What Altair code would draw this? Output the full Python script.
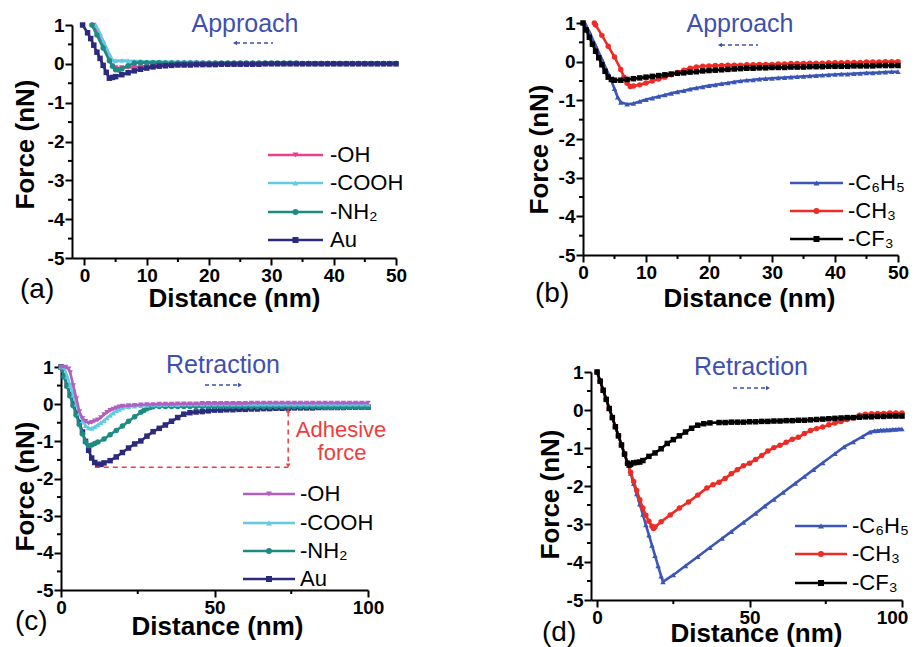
import altair as alt
import pandas as pd

FONT = "Liberation Sans"
W, H = 901, 639

# ---------------- data ----------------
# (a) approach: -OH, -COOH, -NH2, Au
a_oh_x = [1.5, 2, 3, 4, 4.5, 5, 6, 7, 8, 9, 10, 11, 12, 13, 14] + list(range(15, 51))
a_oh_y = [1.0, 0.85, 0.5, 0.1, -0.05, -0.1, -0.1, -0.09, -0.08, -0.07, -0.06, -0.05, -0.04, -0.03, -0.02,
          -0.02, -0.02, -0.01, -0.01, -0.01, -0.01, 0.0, 0.0, 0.0, 0.0,
          0.0, 0.0, 0.0, 0.0, 0.0, 0.0, 0.0, 0.0, 0.0, 0.0,
          0.0, 0.0, 0.0, 0.0, 0.0, 0.0, 0.0, 0.0, 0.0, 0.0,
          0.0, 0.0, 0.0, 0.0, 0.0, 0.0]
a_cooh_x = [1.8, 2.5, 3, 3.5, 4, 4.5, 5, 6, 7, 8, 9, 10, 11, 12, 13, 14] + list(range(15, 51))
a_cooh_y = [1.0, 0.78, 0.6, 0.42, 0.25, 0.1, 0.08, 0.09, 0.08, 0.07, 0.07, 0.06, 0.06, 0.06, 0.05, 0.05,
            0.05, 0.05, 0.05, 0.05, 0.04, 0.04, 0.04, 0.04, 0.04, 0.04,
            0.04, 0.03, 0.03, 0.03, 0.03, 0.03, 0.03, 0.03, 0.03, 0.03,
            0.03, 0.03, 0.03, 0.03, 0.03, 0.03, 0.03, 0.03, 0.03, 0.03,
            0.03, 0.03, 0.03, 0.03, 0.03, 0.03]
a_nh2_x = [1.2, 2, 3, 4, 4.5, 5, 5.5, 6, 7, 8, 9, 10, 11, 12, 13, 14] + list(range(15, 51))
a_nh2_y = [1.0, 0.74, 0.41, 0.08, -0.06, -0.15, -0.16, -0.13, -0.05, 0.02, 0.03, 0.03, 0.03, 0.03, 0.02, 0.02,
           0.02, 0.02, 0.02, 0.02, 0.02, 0.02, 0.02, 0.02, 0.02, 0.02,
           0.02, 0.02, 0.02, 0.02, 0.02, 0.02, 0.02, 0.02, 0.02, 0.02,
           0.01, 0.01, 0.01, 0.01, 0.01, 0.01, 0.01, 0.01, 0.01, 0.01,
           0.01, 0.01, 0.01, 0.01, 0.01, 0.01]
a_au_x = [-0.3, 0.5, 1, 1.5, 2, 2.5, 3, 3.5, 4, 4.5, 5, 6, 7, 8, 9, 10, 11, 12, 13, 14] + list(range(15, 51))
a_au_y = [1.0, 0.8, 0.65, 0.48, 0.3, 0.14, -0.04, -0.22, -0.37, -0.35, -0.33, -0.28, -0.23, -0.18, -0.14,
          -0.11, -0.08, -0.06, -0.05, -0.04,
          -0.03, -0.03, -0.03, -0.02, -0.02, -0.02, -0.02, -0.01, -0.01, -0.01,
          -0.01, -0.01, -0.01, -0.01, 0.0, 0.0, 0.0, 0.0, 0.0, 0.0,
          0.0, 0.0, 0.0, 0.0, 0.0, 0.0, 0.0, 0.0, 0.0, 0.0,
          0.0, 0.0, 0.0, 0.0, 0.0, 0.0]

# (b) approach: -C6H5, -CH3, -CF3
b_c6h5_x = [0.3, 1, 2, 3, 4, 5, 5.5, 6, 7] + list(range(8, 51))
b_c6h5_y = [1.0, 0.78, 0.42, 0.06, -0.3, -0.7, -0.92, -1.05, -1.1,
            -1.08, -1.03, -0.98, -0.94, -0.9, -0.86, -0.82, -0.78, -0.75, -0.71,
            -0.68, -0.65, -0.62, -0.6, -0.57, -0.55, -0.52, -0.5, -0.48, -0.47,
            -0.45, -0.44, -0.43, -0.42, -0.41, -0.4, -0.39, -0.38, -0.37, -0.36,
            -0.35, -0.34, -0.33, -0.32, -0.32, -0.31, -0.3, -0.29, -0.29, -0.28,
            -0.27, -0.26, -0.26]
b_ch3_x = [1.8, 2, 3, 4, 5, 6, 6.5, 7, 7.5, 8] + list(range(9, 51))
b_ch3_y = [1.0, 0.95, 0.68, 0.4, 0.12, -0.2, -0.4, -0.56, -0.64, -0.63,
           -0.6, -0.55, -0.5, -0.45, -0.4, -0.34, -0.28, -0.22, -0.17, -0.14,
           -0.12, -0.11, -0.1, -0.1, -0.09, -0.09, -0.09, -0.08, -0.08, -0.07,
           -0.07, -0.07, -0.06, -0.06, -0.05, -0.05, -0.05, -0.04, -0.04, -0.04,
           -0.03, -0.03, -0.03, -0.02, -0.02, -0.02, -0.01, -0.01, -0.01, 0.0,
           0.0, 0.0]
b_cf3_x = [0, 0.5, 1, 1.5, 2, 2.5, 3, 3.5, 4, 4.5, 5, 6, 7] + list(range(8, 51))
b_cf3_y = [1.0, 0.82, 0.63, 0.45, 0.27, 0.1, -0.08, -0.25, -0.4, -0.46, -0.48, -0.48, -0.46,
           -0.44, -0.42, -0.4, -0.38, -0.36, -0.34, -0.32, -0.3, -0.29, -0.27,
           -0.26, -0.24, -0.23, -0.22, -0.21, -0.2, -0.19, -0.18, -0.17, -0.17,
           -0.16, -0.16, -0.15, -0.15, -0.15, -0.14, -0.14, -0.14, -0.13, -0.13,
           -0.13, -0.12, -0.12, -0.12, -0.12, -0.11, -0.11, -0.11, -0.11, -0.1,
           -0.1, -0.1, -0.1]

# (c) retraction: -OH, -COOH, -NH2, Au
c_oh_x = [0, 1.5, 2.5, 3, 4, 5, 6, 7, 8, 9, 10, 11, 12, 13, 14, 15, 16, 17, 18, 19, 20] + list(range(22, 101, 2))
c_oh_y = [1.0, 1.0, 0.95, 0.85, 0.5, 0.15, -0.2, -0.38, -0.46, -0.51, -0.49, -0.45, -0.42, -0.36, -0.28,
          -0.22, -0.17, -0.13, -0.1, -0.07, -0.05,
          -0.04, -0.03, -0.02, -0.01, -0.01, 0.0, 0.0, 0.0, 0.01, 0.01,
          0.01, 0.01, 0.02, 0.02, 0.02, 0.02, 0.02, 0.02, 0.02, 0.02,
          0.03, 0.03, 0.03, 0.03, 0.03, 0.03, 0.03, 0.03, 0.03, 0.03,
          0.03, 0.03, 0.03, 0.03, 0.03, 0.03, 0.03, 0.03, 0.03, 0.03]
c_cooh_x = list(range(0, 21)) + list(range(22, 101, 2))
c_cooh_y = [1.0, 1.0, 0.75, 0.5, 0.24, 0.0, -0.24, -0.45, -0.58, -0.64, -0.65, -0.61, -0.56, -0.5, -0.44,
            -0.37, -0.3, -0.24, -0.18, -0.14, -0.1,
            -0.07, -0.05, -0.04, -0.03, -0.02, -0.02, -0.01, -0.01, -0.01, 0.0,
            0.0, 0.0, 0.0, 0.0, 0.0, 0.0, 0.0, 0.0, 0.0, 0.0,
            0.0, 0.0, 0.0, 0.0, 0.0, 0.0, 0.0, 0.0, 0.0, 0.0,
            0.0, 0.0, 0.0, 0.0, 0.0, 0.0, 0.0, 0.0, 0.0, 0.0]
c_nh2_x = list(range(0, 13)) + [14, 16, 18, 20, 22, 24, 26, 27, 28, 29, 30] + list(range(32, 101, 2))
c_nh2_y = [1.0, 0.74, 0.48, 0.22, -0.04, -0.3, -0.55, -0.8, -1.02, -1.12, -1.1, -1.06, -1.02,
           -0.94, -0.82, -0.71, -0.59, -0.46, -0.34, -0.22, -0.17, -0.12, -0.09, -0.07,
           -0.06, -0.06, -0.06, -0.06, -0.06, -0.06, -0.06, -0.06, -0.06, -0.06,
           -0.06, -0.06, -0.06, -0.06, -0.06, -0.07, -0.07, -0.07, -0.07, -0.07,
           -0.07, -0.07, -0.07, -0.07, -0.07, -0.07, -0.07, -0.08, -0.08, -0.08,
           -0.08, -0.08, -0.08, -0.08, -0.08]
c_au_x = list(range(0, 15)) + list(range(16, 51, 2)) + list(range(52, 101, 2))
c_au_y = [1.0, 0.75, 0.5, 0.25, 0.0, -0.25, -0.5, -0.75, -1.0, -1.24, -1.45, -1.57, -1.62, -1.62, -1.58,
          -1.52, -1.42, -1.3, -1.18, -1.07, -0.99, -0.86, -0.74, -0.65, -0.56, -0.46, -0.36, -0.27,
          -0.23, -0.21, -0.2, -0.18, -0.16,
          -0.16, -0.15, -0.15, -0.14, -0.14, -0.13, -0.13, -0.12, -0.12, -0.11,
          -0.11, -0.11, -0.1, -0.1, -0.1, -0.1, -0.09, -0.09, -0.09, -0.09,
          -0.09, -0.08, -0.08, -0.08, -0.08]

# (d) retraction: -C6H5, -CH3, -CF3
d_c6h5_x = list(range(0, 22)) + [21.6, 25, 29, 33, 37, 41, 44, 48, 52, 55, 58, 61, 65, 68, 71, 74, 78, 81,
                                 84, 87, 89.5] + list(range(91, 101))
d_c6h5_y = [1.0, 0.76, 0.52, 0.28, 0.04, -0.2, -0.44, -0.68, -0.92, -1.16, -1.4,
            -1.67, -1.94, -2.21, -2.48, -2.75, -3.02, -3.29, -3.56, -3.83, -4.1, -4.37,
            -4.52, -4.34, -4.1, -3.86, -3.62, -3.38, -3.2, -2.96, -2.72, -2.53, -2.35, -2.17, -1.93,
            -1.75, -1.57, -1.39, -1.15, -0.97, -0.84, -0.7, -0.58,
            -0.55, -0.54, -0.53, -0.53, -0.52, -0.52, -0.51, -0.51, -0.5, -0.5]
d_ch3_x = list(range(0, 11)) + [11, 12, 13, 14, 15, 16, 17, 18, 18.5, 19, 21, 24, 27, 30, 33, 36] + \
    list(range(38, 101, 2))
d_ch3_y = [1.0, 0.76, 0.52, 0.28, 0.04, -0.2, -0.44, -0.68, -0.92, -1.16, -1.4,
           -1.64, -1.88, -2.12, -2.36, -2.58, -2.77, -2.93, -3.06, -3.12, -3.08, -2.94, -2.76, -2.58,
           -2.42, -2.24, -2.05,
           -1.97, -1.9, -1.8, -1.68, -1.57, -1.47, -1.4, -1.3, -1.2, -1.08,
           -0.99, -0.93, -0.85, -0.77, -0.72, -0.62, -0.54, -0.49, -0.45, -0.39,
           -0.34, -0.3, -0.25, -0.21, -0.14, -0.11, -0.1, -0.09, -0.09, -0.08,
           -0.08, -0.08]
d_cf3_x = list(range(0, 11)) + [10.5, 11, 12, 13, 14, 15, 17, 19, 21, 23, 25, 27, 29, 31, 33, 35, 37] + \
    list(range(40, 101, 2))
d_cf3_y = [1.0, 0.76, 0.52, 0.28, 0.04, -0.2, -0.44, -0.68, -0.92, -1.16, -1.4,
           -1.45, -1.43, -1.39, -1.38, -1.37, -1.33, -1.22, -1.13, -1.02, -0.88, -0.78, -0.68, -0.58,
           -0.48, -0.4, -0.36, -0.34,
           -0.33, -0.33, -0.32, -0.32, -0.32, -0.31, -0.31, -0.3, -0.3, -0.29,
           -0.29, -0.28, -0.28, -0.27, -0.27, -0.26, -0.25, -0.24, -0.23, -0.22,
           -0.21, -0.2, -0.2, -0.19, -0.18, -0.18, -0.17, -0.17, -0.16, -0.16,
           -0.16]

y_major = [-5, -4, -3, -2, -1, 0, 1]
y_minor = [-4.5, -3.5, -2.5, -1.5, -0.5, 0.5]

# ---------------- styling ----------------
PINK, CYAN, TEAL, NAVY, PURPLE = "#ec3f8c", "#62cbe0", "#1f8a83", "#2c2a7e", "#b25fc2"
BLUE, RED, BLACK = "#3b56b6", "#ee2b25", "#000000"
NOTE = "#3e4fb2"
ADH = "#f03c3c"

SERIES = {
    "a": [("-OH", a_oh_x, a_oh_y, PINK, "triangle-down"),
          ("-COOH", a_cooh_x, a_cooh_y, CYAN, "triangle-up"),
          ("-NH\u2082", a_nh2_x, a_nh2_y, TEAL, "circle"),
          ("Au", a_au_x, a_au_y, NAVY, "square")],
    "b": [("-C\u2086H\u2085", b_c6h5_x, b_c6h5_y, BLUE, "triangle-up"),
          ("-CH\u2083", b_ch3_x, b_ch3_y, RED, "circle"),
          ("-CF\u2083", b_cf3_x, b_cf3_y, BLACK, "square")],
    "c": [("-OH", c_oh_x, c_oh_y, PURPLE, "triangle-down"),
          ("-COOH", c_cooh_x, c_cooh_y, CYAN, "triangle-up"),
          ("-NH\u2082", c_nh2_x, c_nh2_y, TEAL, "circle"),
          ("Au", c_au_x, c_au_y, NAVY, "square")],
    "d": [("-C\u2086H\u2085", d_c6h5_x, d_c6h5_y, BLUE, "triangle-up"),
          ("-CH\u2083", d_ch3_x, d_ch3_y, RED, "circle"),
          ("-CF\u2083", d_cf3_x, d_cf3_y, BLACK, "square")],
}
# drawing order (last on top)
DRAW_ORDER = {"a": [0, 1, 2, 3], "b": [0, 1, 2], "c": [3, 2, 1, 0], "d": [0, 1, 2]}

PANEL = {
    "a": dict(xdom=[-2, 50], xr=[64, 388], yr=[250, 17], xt=[0, 10, 20, 30, 40, 50], xm=[5, 15, 25, 35, 45],
              xtitle=(226, 40.5), ytitle=(-47, 136), lastshift=0,
              leg=(260, 315, 322, [147, 175, 204, 232]), tag=("(a)", 12, 289.5),
              note=("Approach", 237, 24), arrow=(225, 265, 35, "left")),
    "b": dict(xdom=[0, 50], xr=[575, 890], yr=[247, 15], xt=[0, 10, 20, 30, 40, 50], xm=[5, 15, 25, 35, 45],
              xtitle=(741, 43.5), ytitle=(-44, 141), lastshift=0,
              leg=(782, 835, 840, [175, 203, 231]), tag=("(b)", 527, 293.5),
              note=("Approach", 732, 24), arrow=(710, 750, 37, "left")),
    "c": dict(xdom=[0, 100], xr=[53, 360], yr=[582, 359], xt=[0, 50, 100], xm=[25, 75],
              xtitle=(209, 36), ytitle=(-36, 478), lastshift=0,
              leg=(235, 287, 292, [486, 515, 543, 571]), tag=("(c)", 7, 622),
              note=("Retraction", 215, 365), arrow=(197, 234, 377, "right")),
    "d": dict(xdom=[-2, 100], xr=[583, 894], yr=[592, 364], xt=[0, 50, 100], xm=[25, 75],
              xtitle=(748, 33), ytitle=(-41, 486), lastshift=-10,
              leg=(787, 839, 844, [518, 546, 575]), tag=("(d)", 534, 633),
              note=("Retraction", 743, 367), arrow=(725, 762, 380, "right")),
}

AXIS_STYLE = dict(grid=False, domainColor="black", domainWidth=2, tickColor="black", tickWidth=2,
                  tickSize=7, labelFont=FONT, labelFontSize=19, labelFontWeight="bold", labelColor="black",
                  labelPadding=1, labelFlush=False, labelOverlap=False, labelExpr="'' + datum.value",
                  titleFont=FONT, titleFontSize=26, titleFontWeight="bold", titleColor="black",
                  titleBaseline="middle", titleAlign="center")

ONE = pd.DataFrame({"k": [0]})


def txt(text, x, y, size, color="black", align="left", baseline="middle", weight="normal"):
    return alt.Chart(ONE).mark_text(text=text, font=FONT, fontSize=size, color=color, align=align,
                                    baseline=baseline, fontWeight=weight).encode(
        x=alt.value(x), y=alt.value(y))


def panel(key):
    p = PANEL[key]
    xb, yb = p["xr"][0], p["yr"][0]
    xsc = alt.Scale(domain=p["xdom"], range=p["xr"], nice=False, zero=False)
    ysc = alt.Scale(domain=[-5, 1], range=p["yr"], nice=False, zero=False)
    xextra = {}
    if p["lastshift"]:
        # keep the last tick label inside the page edge
        xextra["labelOffset"] = {"condition": {"test": "datum.value === %d" % p["xt"][-1],
                                               "value": p["lastshift"]}, "value": 0}
    xa = alt.Axis(orient="bottom", offset=yb - H, values=p["xt"], title="Distance (nm)",
                  titleX=p["xtitle"][0], titleY=p["xtitle"][1], **AXIS_STYLE, **xextra)
    ya = alt.Axis(orient="left", offset=-xb, values=y_major, title="Force (nN)", titleAngle=270,
                  titleX=p["ytitle"][0], titleY=p["ytitle"][1], **AXIS_STYLE)

    def X(f):
        return alt.X(f, scale=xsc, axis=xa)

    def Y(f):
        return alt.Y(f, scale=ysc, axis=ya)

    def XD(v):
        return alt.XDatum(v, scale=xsc, axis=xa)

    def YD(v):
        return alt.YDatum(v, scale=ysc, axis=ya)

    layers = []
    # minor ticks
    layers.append(alt.Chart(pd.DataFrame({"v": p["xm"]})).mark_rule(color="black", strokeWidth=2).encode(
        x=X("v:Q"), y=alt.value(yb), y2=alt.value(yb + 4)))
    layers.append(alt.Chart(pd.DataFrame({"v": y_minor})).mark_rule(color="black", strokeWidth=2).encode(
        y=Y("v:Q"), x=alt.value(xb - 4), x2=alt.value(xb)))
    for idx in DRAW_ORDER[key]:
        name, xs, ys, col, shp = SERIES[key][idx]
        assert len(xs) == len(ys), (key, name, len(xs), len(ys))
        df = pd.DataFrame({"x": xs, "y": ys})
        layers.append(alt.Chart(df).mark_line(color=col, strokeWidth=2.6).encode(x=X("x:Q"), y=Y("y:Q")))
        layers.append(alt.Chart(df).mark_point(shape=shp, filled=True, color=col, size=30, opacity=1)
                      .encode(x=X("x:Q"), y=Y("y:Q")))
    # legend
    lx0, lx1, tx, rows = p["leg"]
    for (name, xs, ys, col, shp), ry in zip(SERIES[key], rows):
        layers.append(alt.Chart(ONE).mark_rule(color=col, strokeWidth=2.6).encode(
            x=alt.value(lx0), x2=alt.value(lx1), y=alt.value(ry)))
        layers.append(alt.Chart(ONE).mark_point(shape=shp, filled=True, color=col, size=36, opacity=1).encode(
            x=alt.value((lx0 + lx1) / 2), y=alt.value(ry)))
        layers.append(txt(name, tx, ry, 22))
    # annotations
    tag, tgx, tgy = p["tag"]
    layers.append(txt(tag, tgx, tgy, 28, baseline="alphabetic"))
    nt, nx, ny = p["note"]
    layers.append(txt(nt, nx, ny, 25, color=NOTE, align="center", baseline="alphabetic"))
    ax0, ax1, ay, adir = p["arrow"]
    layers.append(alt.Chart(ONE).mark_rule(color=NOTE, strokeWidth=1.5, strokeDash=[4, 3]).encode(
        x=alt.value(ax0 + 3 if adir == "left" else ax0), x2=alt.value(ax1 - 3 if adir == "right" else ax1),
        y=alt.value(ay)))
    layers.append(alt.Chart(ONE).mark_point(shape="triangle-" + adir, filled=True, color=NOTE, size=22,
                                            opacity=1).encode(
        x=alt.value(ax0 + 2 if adir == "left" else ax1 - 2), y=alt.value(ay)))
    if key == "c":
        layers.append(alt.Chart(ONE).mark_rule(color=ADH, strokeWidth=1.5, strokeDash=[5, 4]).encode(
            x=XD(11), x2=alt.X2Datum(74), y=YD(-1.7)))
        layers.append(alt.Chart(ONE).mark_rule(color=ADH, strokeWidth=1.5, strokeDash=[5, 4]).encode(
            x=XD(74), y=YD(-0.2), y2=alt.Y2Datum(-1.62)))
        layers.append(alt.Chart(ONE).mark_point(shape="triangle-up", filled=True, color=ADH, size=22,
                                                opacity=1).encode(x=XD(74), y=YD(-0.17)))
        layers.append(alt.Chart(ONE).mark_point(shape="triangle-down", filled=True, color=ADH, size=22,
                                                opacity=1).encode(x=XD(74), y=YD(-1.65)))
        layers.append(txt("Adhesive", 333, 429, 22, color=ADH, align="center", baseline="alphabetic"))
        layers.append(txt("force", 334, 452, 22, color=ADH, align="center", baseline="alphabetic"))
    return alt.layer(*layers)


chart = alt.layer(panel("a"), panel("b"), panel("c"), panel("d")).resolve_scale(
    x="independent", y="independent"
).properties(
    width=W, height=H, autosize=alt.AutoSizeParams(type="none"), padding=0
).configure_view(stroke=None)

chart.save("out.html", embed_options={"renderer": "svg", "actions": False})
